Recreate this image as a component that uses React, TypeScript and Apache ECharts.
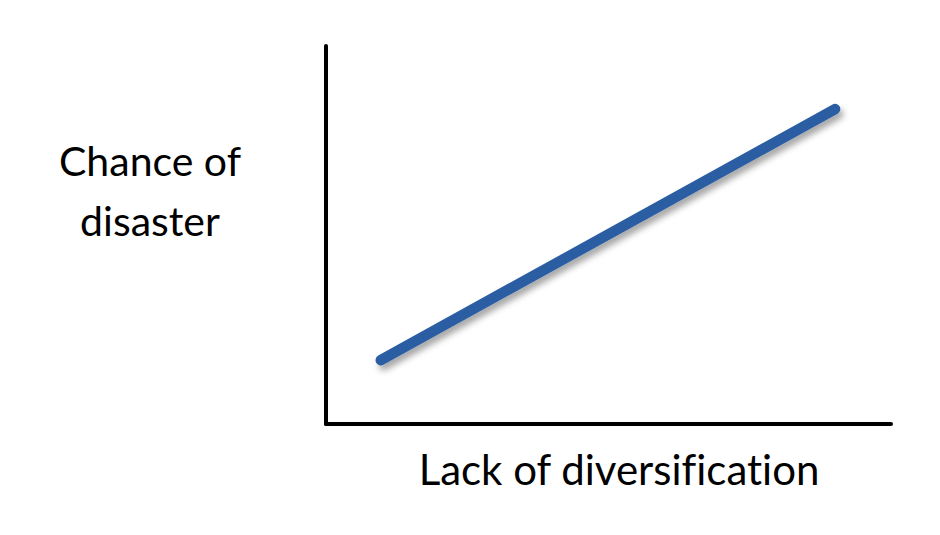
import React, { useEffect, useRef } from "react";
import * as echarts from "echarts";

const xLabel = "Lack of diversification";
const yLabelLines = ["Chance of", "disaster"];
const lineX = [9.7, 90.1];
const lineY = [16.9, 83.3];

export default function App() {
  const ref = useRef<HTMLDivElement>(null);
  useEffect(() => {
    if (!ref.current) return;
    const chart = echarts.init(ref.current, undefined, { renderer: "svg" });
    const axisCommon = {
      type: "value" as const,
      min: 0,
      max: 100,
      axisLine: { show: true, lineStyle: { color: "#000", width: 4 } },
      axisTick: { show: false },
      axisLabel: { show: false },
      splitLine: { show: false },
    };
    chart.setOption({
      animation: false,
      backgroundColor: "#fff",
      grid: { left: 326, right: 49, top: 46, bottom: 111 },
      xAxis: axisCommon,
      yAxis: axisCommon,
      series: [
        {
          type: "line",
          data: lineX.map((x, i) => [x, lineY[i]]),
          symbol: "none",
          lineStyle: {
            color: "#2a5da2",
            width: 10.5,
            cap: "round",
            shadowColor: "rgba(0,0,0,0.35)",
            shadowBlur: 6,
            shadowOffsetX: 3,
            shadowOffsetY: 5,
          },
        },
      ],
      graphic: [
        {
          type: "text",
          x: 619,
          y: 490,
          style: {
            text: xLabel,
            font: "42px Lato",
            fill: "#000",
            align: "center",
            verticalAlign: "bottom",
          },
        },
        {
          type: "text",
          x: 150,
          y: 130,
          style: {
            text: yLabelLines.join("\n"),
            font: "41px Lato",
            fill: "#000",
            align: "center",
            lineHeight: 60,
          },
        },
      ],
    });
    return () => chart.dispose();
  }, []);
  return (
    <>
      <style>{"svg text { font-variant-ligatures: none !important; font-feature-settings: 'liga' 0, 'clig' 0 !important; }"}</style>
      <div ref={ref} style={{ position: "absolute", left: 0, top: 0, width: 940, height: 535 }} />
    </>
  );
}
